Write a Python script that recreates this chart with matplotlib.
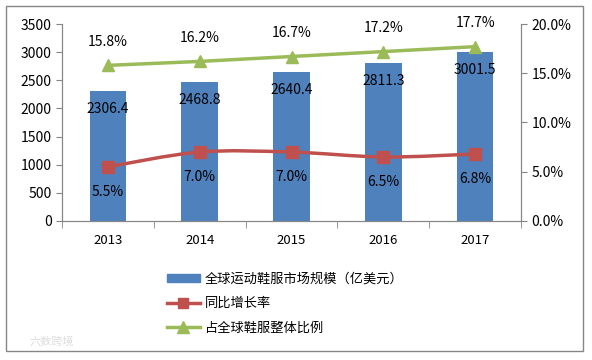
import numpy as np
import matplotlib.pyplot as plt
from matplotlib.path import Path
from matplotlib.patches import PathPatch, Rectangle
from matplotlib.lines import Line2D

plt.rcParams['font.family'] = ['Noto Sans CJK SC', 'DejaVu Sans']

# data
years = ['2013', '2014', '2015', '2016', '2017']
market_size = [2306.4, 2468.8, 2640.4, 2811.3, 3001.5]
growth_rate = [5.5, 7.0, 7.0, 6.5, 6.8]
share_ratio = [15.8, 16.2, 16.7, 17.2, 17.7]

bar_color = '#4F81BD'
red = '#C0504D'
green = '#9BBB59'
axis_color = '#868686'

fig = plt.figure(figsize=(5.92, 3.6), dpi=100)
ax = fig.add_axes([62 / 592, 1 - 221 / 360, (521 - 62) / 592, (221 - 24) / 360])
ax2 = ax.twinx()

x = np.arange(len(years))

# bars
ax.bar(x, market_size, width=0.4, color=bar_color, zorder=2)
for xi, v in zip(x, market_size):
    ax.annotate(f'{v:.1f}', (xi, v), xytext=(0, -13), textcoords='offset points',
                ha='center', va='center', fontsize=10, color='black')

ax.set_xlim(-0.5, len(years) - 0.5)
ax.set_ylim(0, 3500)
ax.set_yticks(np.arange(0, 3501, 500))
ax.set_xticks(x)
ax.set_xticklabels(years)
ax.set_xticks(np.arange(-0.5, len(years), 1), minor=True)
ax.tick_params(axis='x', which='major', length=0, pad=9, labelsize=9.5)
ax.tick_params(axis='x', which='minor', length=5, color=axis_color)
ax.tick_params(axis='y', length=4, color=axis_color, labelsize=10)

# smoothed growth-rate line (Bezier path through the data points)
pts = np.column_stack([x, growth_rate]).astype(float)
verts = [tuple(pts[0])]
codes = [Path.MOVETO]
for i in range(len(pts) - 1):
    p0 = pts[i - 1] if i > 0 else pts[i]
    p1 = pts[i]
    p2 = pts[i + 1]
    p3 = pts[i + 2] if i + 2 < len(pts) else pts[i + 1]
    c1 = p1 + (p2 - p0) / 6
    c2 = p2 - (p3 - p1) / 6
    verts += [tuple(c1), tuple(c2), tuple(p2)]
    codes += [Path.CURVE4] * 3
ax2.add_patch(PathPatch(Path(verts, codes), facecolor='none', edgecolor=red,
                        lw=2.5, zorder=3))
ax2.plot(x, growth_rate, linestyle='none', marker='s', markersize=8,
         color=red, zorder=4)
for xi, v in zip(x, growth_rate):
    ax2.annotate(f'{v:.1f}%', (xi, v), xytext=(0, -18), textcoords='offset points',
                 ha='center', va='center', fontsize=10)

# share line
ax2.plot(x, share_ratio, color=green, lw=2.5, marker='^', markersize=9, zorder=4)
for xi, v in zip(x, share_ratio):
    ax2.annotate(f'{v:.1f}%', (xi, v), xytext=(0, 17), textcoords='offset points',
                 ha='center', va='center', fontsize=10)

ax2.set_ylim(0, 20)
ax2.set_yticks(np.arange(0, 20.1, 5))
ax2.set_yticklabels([f'{t:.1f}%' for t in np.arange(0, 20.1, 5)])
ax2.tick_params(axis='y', length=4, color=axis_color, labelsize=10)

for a in (ax, ax2):
    a.spines['top'].set_visible(False)
    for s in ('left', 'right', 'bottom'):
        a.spines[s].set_color(axis_color)

# legend
handles = [
    Rectangle((0, 0), 1, 1, color=bar_color),
    Line2D([], [], color=red, lw=2.5, marker='s', markersize=7),
    Line2D([], [], color=green, lw=2.5, marker='^', markersize=8),
]
labels = ['全球运动鞋服市场规模（亿美元）', '同比增长率', '占全球鞋服整体比例']
fig.legend(handles, labels, loc='upper left', bbox_to_anchor=(160 / 592, 1 - 266 / 360),
           frameon=False, fontsize=9.5, handlelength=2.5, handleheight=0.6,
           labelspacing=0.88, handletextpad=0.4, borderpad=0)

# outer border and watermark
fig.patches.append(Rectangle((6 / 592, 1 - 351 / 360), 577 / 592, 345 / 360,
                             transform=fig.transFigure, fill=False,
                             edgecolor=axis_color, lw=1))
fig.text(30 / 592, 1 - 345 / 360, '六数跨境', fontsize=8, color='#dddddd')

fig.savefig('out.png', dpi=100)
